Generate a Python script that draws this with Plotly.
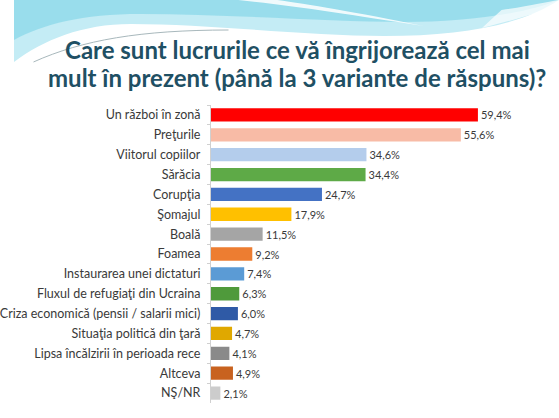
import plotly.graph_objects as go

W, H = 559, 418

# survey answers, top to bottom
categories = [
    "Un război în zonă",
    "Preţurile",
    "Viitorul copiilor",
    "Sărăcia",
    "Corupţia",
    "Şomajul",
    "Boală",
    "Foamea",
    "Instaurarea unei dictaturi",
    "Fluxul de refugiaţi din Ucraina",
    "Criza economică (pensii / salarii mici)",
    "Situaţia politică din ţară",
    "Lipsa încălzirii în perioada rece",
    "Altceva",
    "NŞ/NR",
]
values = [59.4, 55.6, 34.6, 34.4, 24.7, 17.9, 11.5, 9.2, 7.4, 6.3, 6.0, 4.7, 4.1, 4.9, 2.1]
colors = [
    "#ff0000", "#f8bba6", "#b4cdec", "#5eaa47", "#4472c4",
    "#ffc000", "#a5a5a5", "#ed7d31", "#5b9bd5", "#4f9a3b",
    "#2f5aa6", "#e0a800", "#8a8a8a", "#c8621f", "#cccccc",
]
labels = [f"{v:.1f}%".replace(".", ",") for v in values]
title_lines = [
    "Care sunt lucrurile ce vă îngrijorează cel mai",
    "mult în prezent (până la 3 variante de răspuns)?",
]


def px_path(points, closed=True):
    # pixel points (x right, y down) -> svg path in paper units
    parts = []
    for cmd, pts in points:
        coords = " ".join(f"{x / W:.4f},{1 - y / H:.4f}" for x, y in pts)
        parts.append(f"{cmd} {coords}")
    return " ".join(parts) + (" Z" if closed else "")


fig = go.Figure()

fig.add_trace(go.Bar(
    x=values,
    y=categories,
    orientation="h",
    marker=dict(color=colors, line=dict(width=0)),
    text=labels,
    textposition="outside",
    cliponaxis=False,
    textfont=dict(family="Lato", size=11, color="#3a3a3a"),
    hoverinfo="skip",
))

# decorative wave band at the top of the slide
wave_light = px_path([
    ("M", [(0, 0)]), ("L", [(559, 0), (559, 4)]),
    ("C", [(520, 25), (460, 36), (380, 36)]),
    ("C", [(300, 36), (200, 24), (120, 24)]),
    ("C", [(70, 24), (30, 40), (0, 62)]),
])
wave_dark = px_path([
    ("M", [(0, 0)]), ("L", [(559, 0), (559, 2)]),
    ("C", [(520, 15), (460, 22), (400, 22)]),
    ("C", [(320, 22), (220, 14), (130, 14)]),
    ("C", [(70, 14), (30, 24), (0, 40)]),
])
swoosh = px_path([
    ("M", [(230, 0)]),
    ("C", [(290, 6), (340, 14), (420, 26)]),
    ("C", [(350, 12), (300, 4), (270, 0)]),
])
swoosh2 = px_path([
    ("M", [(500, 10)]),
    ("C", [(530, 6), (545, 2), (559, 0)]),
    ("L", [(559, 6)]),
    ("C", [(540, 12), (520, 18), (480, 28)]),
])
edge_line = px_path([
    ("M", [(20, 62)]),
    ("C", [(70, 40), (130, 30), (220, 30)]),
], closed=False)

shapes = [
    dict(type="path", path=wave_light, fillcolor="#c4ecf5", line=dict(width=0)),
    dict(type="path", path=wave_dark, fillcolor="#8fd9ea", line=dict(width=0), opacity=0.8),
    dict(type="path", path=swoosh, fillcolor="#ffffff", line=dict(width=0), opacity=0.85),
    dict(type="path", path=swoosh2, fillcolor="#ffffff", line=dict(width=0), opacity=0.7),
    dict(type="path", path=edge_line, line=dict(color="#a8b8bc", width=1)),
]
for s in shapes:
    s.update(xref="paper", yref="paper", layer="below")

# title as two centred lines
annotations = []
for i, line in enumerate(title_lines):
    annotations.append(dict(
        text=line,
        x=0.52,
        y=1 - (50 + 28 * i) / H,
        xref="paper",
        yref="paper",
        xanchor="center",
        yanchor="middle",
        showarrow=False,
        font=dict(family="Lato", size=24, color="#1f5064", weight="bold"),
    ))

fig.update_layout(
    width=W,
    height=H,
    margin=dict(l=0, r=0, t=0, b=0),
    paper_bgcolor="white",
    plot_bgcolor="white",
    showlegend=False,
    bargap=0.33,
    shapes=shapes,
    annotations=annotations,
    font=dict(family="Lato", color="#3a3a3a"),
)

fig.update_xaxes(
    range=[0, 70],
    domain=[202 / W, (202 + 70 * 4.61) / W],
    visible=False,
    fixedrange=True,
)
fig.update_yaxes(
    domain=[15 / H, 313 / H],
    autorange="reversed",
    showline=True,
    linecolor="#d0d0d0",
    linewidth=1,
    ticks="outside",
    tickson="boundaries",
    ticklen=3,
    tickcolor="#d0d0d0",
    ticklabelstandoff=7,
    tickfont=dict(family="Lato", size=12.5, color="#3a3a3a"),
    showgrid=False,
    fixedrange=True,
)

fig.write_html(
    "out.html",
    config={"displayModeBar": False},
    post_script="document.body.style.margin = '0';",
)
